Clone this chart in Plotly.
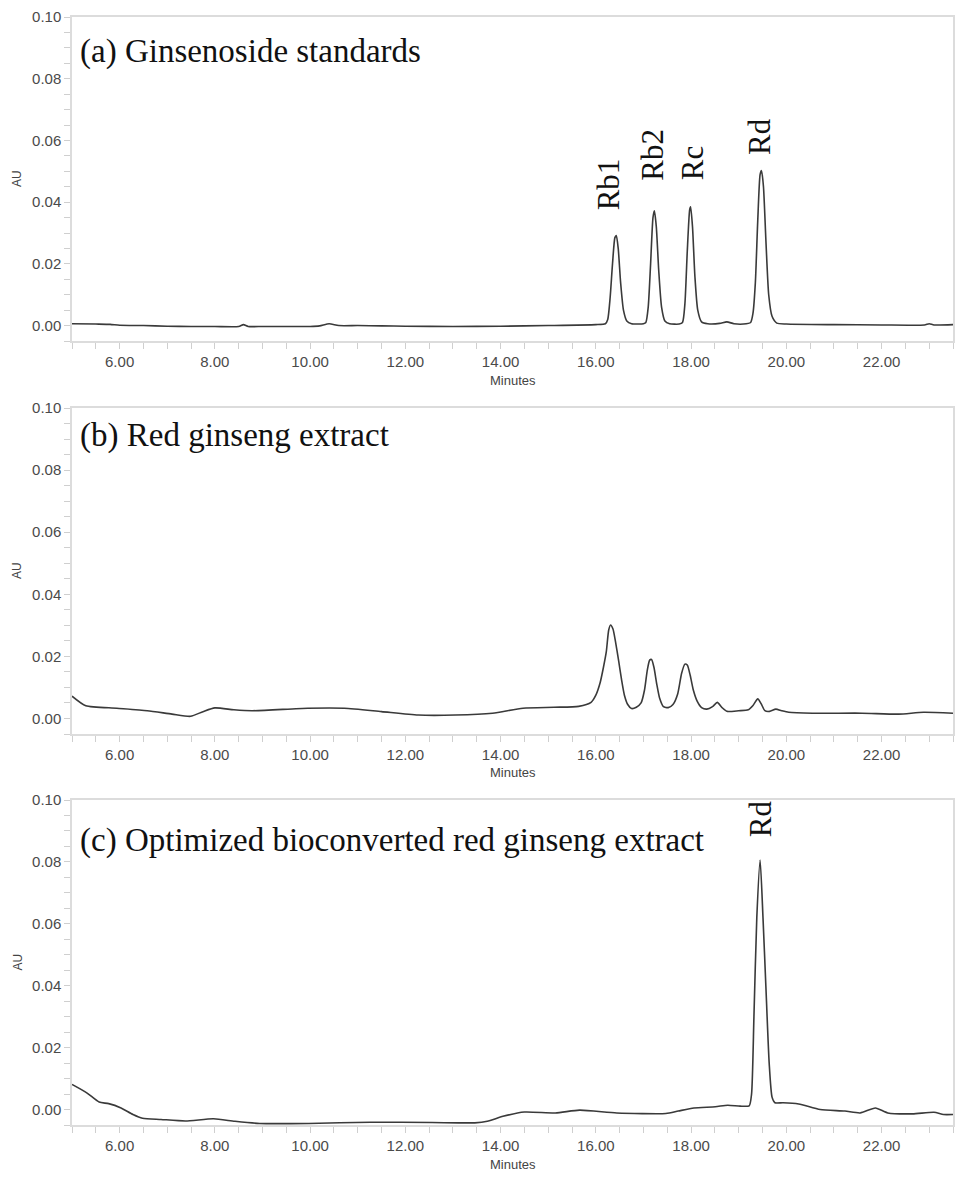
import plotly.graph_objects as go
from plotly.subplots import make_subplots

# (a) ginsenoside standards
x_std = [5.0, 5.5, 5.8, 6.0, 6.5, 7.0, 7.5, 8.0, 8.5, 8.6, 8.7, 9.0, 9.5, 10.0, 10.2, 10.4, 10.6,
         11.0, 11.5, 12.0, 13.0, 14.0, 15.0, 16.0, 16.2,
         16.25, 16.3, 16.35, 16.4, 16.43, 16.47, 16.52, 16.58, 16.65, 16.75, 16.9, 17.0,
         17.05, 17.1, 17.15, 17.2, 17.23, 17.27, 17.32, 17.38, 17.45, 17.55, 17.75,
         17.82, 17.87, 17.92, 17.97, 17.99, 18.03, 18.08, 18.14, 18.22, 18.35, 18.6, 18.75, 18.9, 19.1, 19.25,
         19.3, 19.35, 19.4, 19.45, 19.48, 19.52, 19.57, 19.63, 19.7, 19.8, 20.0,
         21.0, 22.0, 22.9, 23.0, 23.1, 23.5]
y_std = [0.0006, 0.0005, 0.0004, 0.0001, 0.0000, -0.0002, -0.0003, -0.0003, -0.0003, 0.0003, -0.0003, -0.0003, -0.0003, -0.0003, -0.0001, 0.0006, 0.0000,
         0.0000, -0.0001, -0.0002, -0.0003, -0.0002, 0.0000, 0.0003, 0.0006,
         0.002, 0.009, 0.020, 0.0285, 0.0292, 0.025, 0.014, 0.005, 0.0015, 0.0006, 0.0005, 0.0006,
         0.001, 0.006, 0.020, 0.035, 0.0372, 0.032, 0.018, 0.006, 0.0015, 0.0006, 0.0005,
         0.001, 0.007, 0.024, 0.0375, 0.0385, 0.032, 0.016, 0.005, 0.0012, 0.0006, 0.0007, 0.0012, 0.0006, 0.0005, 0.001,
         0.004, 0.014, 0.034, 0.049, 0.0502, 0.045, 0.028, 0.010, 0.003, 0.0008, 0.0005,
         0.0003, 0.0002, 0.0002, 0.0006, 0.0002, 0.0003]

# (b) red ginseng extract
x_red = [5.0, 5.29, 5.94, 6.58, 7.1, 7.49, 7.75, 8.0, 8.4, 8.78, 9.95, 10.72, 11.5, 12.27, 13.05,
         13.83, 14.47, 15.12, 15.64, 15.9, 16.0, 16.09, 16.16, 16.22, 16.27, 16.31, 16.36, 16.41,
         16.48, 16.54, 16.6, 16.67, 16.75, 16.85, 16.95, 17.02, 17.08, 17.13, 17.17, 17.22, 17.28,
         17.34, 17.42, 17.52, 17.62, 17.72, 17.8, 17.87, 17.92, 17.98, 18.05, 18.13, 18.22, 18.33,
         18.45, 18.55, 18.65, 18.75, 19.0, 19.2, 19.3, 19.4, 19.47, 19.55, 19.65, 19.78, 19.9,
         20.05, 20.55, 21.59, 22.36, 22.88, 23.5]
y_red = [0.0072, 0.0041, 0.0033, 0.0025, 0.0014, 0.0007, 0.0022, 0.0034, 0.0028, 0.0025, 0.0033, 0.0033, 0.0022, 0.0011, 0.0011,
         0.0017, 0.0033, 0.0036, 0.0039, 0.0052, 0.0075, 0.0115, 0.0165, 0.0215, 0.0285, 0.0301, 0.0288, 0.0250,
         0.0185, 0.0125, 0.0075, 0.0045, 0.0032, 0.0036, 0.005, 0.009, 0.0155, 0.0188, 0.019, 0.0165, 0.011,
         0.0065, 0.0038, 0.0035, 0.0045, 0.008, 0.0145, 0.0175, 0.0172, 0.014, 0.009, 0.0055, 0.0035, 0.003,
         0.0038, 0.0052, 0.0035, 0.0023, 0.0025, 0.0028, 0.0042, 0.0063, 0.0048, 0.0025, 0.0023, 0.003, 0.0025,
         0.002, 0.0017, 0.0017, 0.0014, 0.002, 0.0017]

# (c) optimized bioconverted red ginseng extract
x_bio = [5.0, 5.31, 5.57, 5.77, 6.03, 6.28, 6.48, 6.87, 7.38, 7.97, 8.42, 8.94, 9.97, 11.27, 12.56,
         13.46, 13.72, 14.05, 14.5, 15.15, 15.66, 16.44, 17.47, 17.73, 18.06, 18.51, 18.77, 19.03,
         19.22, 19.27, 19.32, 19.38, 19.45, 19.51, 19.57, 19.64, 19.7, 19.76, 19.93, 20.26, 20.71,
         21.23, 21.55, 21.87, 22.13, 22.65, 23.1, 23.3, 23.5]
y_bio = [0.0081, 0.0054, 0.0024, 0.0019, 0.0005, -0.0016, -0.0028, -0.0032, -0.0037, -0.003, -0.0038, -0.0045, -0.0045, -0.0041, -0.0042,
         -0.0043, -0.0038, -0.0022, -0.0008, -0.0011, -0.0002, -0.0011, -0.0013, -0.0005, 0.0005, 0.0009, 0.0014, 0.0011,
         0.0012, 0.005, 0.030, 0.062, 0.0806, 0.062, 0.040, 0.015, 0.004, 0.0022, 0.0022, 0.0018, 0.0,
         -0.0005, -0.0011, 0.0005, -0.0011, -0.0014, -0.0009, -0.0016, -0.0016]

panel_titles = ["(a) Ginsenoside standards", "(b) Red ginseng extract",
                "(c) Optimized bioconverted red ginseng extract"]
title_y = [0.0887, 0.0913, 0.0869]

# peak labels: (panel, x, y of label bottom, text)
peak_labels = [(1, 16.27, 0.0366, "Rb1"), (1, 17.2, 0.0463, "Rb2"),
               (1, 18.03, 0.0463, "Rc"), (1, 19.44, 0.0547, "Rd"),
               (3, 19.45, 0.0872, "Rd")]

x_ticks = [6, 8, 10, 12, 14, 16, 18, 20, 22]
y_ticks = [0.0, 0.02, 0.04, 0.06, 0.08, 0.10]

# page body adds 8px around the figure, so the figure is made smaller
OFF = 8
W, H = 965 - 2 * OFF, 1179 - 2 * OFF
L, R = 72 - OFF, 965 - 953 - OFF
# plot areas in window pixels (top, bottom)
panel_px = [(17, 341), (408, 734), (800, 1125)]


def paper_x(px):
    return (px - OFF - L) / (W - L - R)


def paper_y(py):
    return 1 - (py - OFF) / H


fig = make_subplots(rows=3, cols=1)

series = [(x_std, y_std), (x_red, y_red), (x_bio, y_bio)]
for i, (xs, ys) in enumerate(series, start=1):
    fig.add_trace(go.Scatter(x=xs, y=ys, mode="lines",
                             line=dict(color="#3a3a3a", width=1.6, shape="spline", smoothing=0.6),
                             showlegend=False, hoverinfo="skip"), row=i, col=1)

tick_font = dict(family="Liberation Sans, Arial", size=15, color="#4a4a4a")
axis_common = dict(showline=True, linecolor="#dcdcdc", linewidth=1.5, mirror=True,
                   showgrid=False, zeroline=False, ticks="outside", ticklen=6,
                   tickcolor="#cfcfcf", tickwidth=1.2, tickfont=tick_font, automargin=False)

for i in range(1, 4):
    top, bot = panel_px[i - 1]
    fig.update_xaxes(range=[5, 23.5], tickvals=x_ticks,
                     ticktext=[f"{v:.2f}" for v in x_ticks],
                     minor=dict(dtick=0.5, tick0=5, ticks="outside", ticklen=6,
                                tickcolor="#cfcfcf", tickwidth=1.2, showgrid=False),
                     row=i, col=1, **axis_common)
    fig.update_yaxes(range=[-0.005, 0.10], tickvals=y_ticks,
                     ticktext=[f"{v:.2f}" for v in y_ticks],
                     minor=dict(dtick=0.005, tick0=0, ticks="outside", ticklen=6,
                                tickcolor="#cfcfcf", tickwidth=1.2, showgrid=False),
                     domain=[paper_y(bot), paper_y(top)],
                     row=i, col=1, **axis_common)

    xref = "x" if i == 1 else f"x{i}"
    yref = "y" if i == 1 else f"y{i}"
    fig.add_annotation(x=5.13, y=title_y[i - 1], xref=xref, yref=yref,
                       text=panel_titles[i - 1], showarrow=False,
                       xanchor="left", yanchor="middle",
                       font=dict(family="Liberation Serif, Times New Roman", size=33, color="#111111"))
    # axis titles
    fig.add_annotation(x=paper_x(17), y=paper_y((top + bot) / 2), xref="paper", yref="paper",
                       text="AU", textangle=-90, showarrow=False,
                       xanchor="center", yanchor="middle",
                       font=dict(family="Liberation Sans, Arial", size=12, color="#444444"))
    fig.add_annotation(x=0.5, y=paper_y(bot + 39), xref="paper", yref="paper",
                       text="Minutes", showarrow=False,
                       xanchor="center", yanchor="middle",
                       font=dict(family="Liberation Sans, Arial", size=13, color="#444444"))

for panel, px, py, txt in peak_labels:
    xref = "x" if panel == 1 else f"x{panel}"
    yref = "y" if panel == 1 else f"y{panel}"
    fig.add_annotation(x=px, y=py, xref=xref, yref=yref, text=txt, textangle=-90,
                       showarrow=False, xanchor="center", yanchor="bottom",
                       font=dict(family="Liberation Serif, Times New Roman", size=31, color="#111111"))

fig.update_layout(width=W, height=H, plot_bgcolor="white", paper_bgcolor="white",
                  margin=dict(l=L, r=R, t=0, b=0))

fig.write_html("out.html")
